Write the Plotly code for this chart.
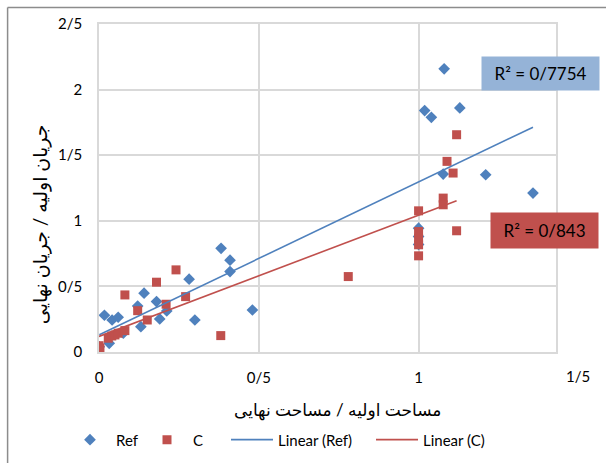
import numpy as np
import plotly.graph_objects as go

# ---- data ----
ref_x = [0.001, 0.017, 0.032, 0.041, 0.06, 0.076, 0.121, 0.131, 0.141, 0.18, 0.19, 0.212,
         0.282, 0.30, 0.382, 0.41, 0.41, 0.48, 1.0, 1.0, 1.0, 1.019, 1.04, 1.077, 1.08, 1.129, 1.21, 1.358]
ref_y = [0.04, 0.28, 0.066, 0.244, 0.265, 0.143, 0.35, 0.193, 0.448, 0.384, 0.252, 0.313,
         0.555, 0.244, 0.79, 0.70, 0.613, 0.32, 0.944, 0.88, 0.82, 1.84, 1.789, 1.356, 2.158, 1.86, 1.351, 1.211]

c_x = [0.0, 0.0, 0.003, 0.029, 0.04, 0.05, 0.06, 0.081, 0.081, 0.121, 0.151, 0.18, 0.21,
       0.241, 0.271, 0.381, 0.78, 1.0, 1.0, 1.0, 1.0, 1.0, 1.077, 1.077, 1.089, 1.108, 1.119, 1.119]
c_y = [0.023, 0.048, 0.03, 0.105, 0.122, 0.13, 0.143, 0.163, 0.435, 0.315, 0.244, 0.532, 0.364,
       0.626, 0.422, 0.125, 0.575, 1.076, 0.918, 0.868, 0.817, 0.733, 1.173, 1.122, 1.453, 1.364, 1.656, 0.924]

x_tickvals = [0, 0.5, 1]
x_ticktext = ["0", "0/5", "1"]
x_extra_tick = (1.5, "1/5")
y_tickvals = [0, 0.5, 1, 1.5, 2, 2.5]
y_ticktext = ["0", "0/5", "1", "1/5", "2", "2/5"]

r2_ref_text = "R² = 0/7754"
r2_c_text = "R² = 0/843"
x_title = "مساحت اولیه / مساحت نهایی"
y_title = "جریان اولیه / جریان نهایی"

XMAX = 1.43
YMAX = 2.5

BLUE = "#4F81BD"
RED = "#C0504D"
GRID = "#D9D9D9"
FONT = "Lato, DejaVu Sans, sans-serif"


def trend(xs, ys):
    k, b = np.polyfit(xs, ys, 1)
    lx = np.array([min(xs), max(xs)])
    return lx, k * lx + b


fig = go.Figure()
fig.add_trace(go.Scatter(x=ref_x, y=ref_y, mode="markers", name="Ref", legend="legend",
                         marker=dict(symbol="diamond", size=9, color=BLUE)))
fig.add_trace(go.Scatter(x=c_x, y=c_y, mode="markers", name="C", legend="legend2",
                         marker=dict(symbol="square", size=9, color=RED)))
lx, ly = trend(ref_x, ref_y)
fig.add_trace(go.Scatter(x=lx, y=ly, mode="lines", name="Linear (Ref)", legend="legend3",
                         line=dict(color=BLUE, width=1.6)))
lx, ly = trend(c_x, c_y)
fig.add_trace(go.Scatter(x=lx, y=ly, mode="lines", name="Linear (C)", legend="legend4",
                         line=dict(color=RED, width=1.6)))

leg_common = dict(orientation="h", xanchor="left", y=-0.268, yanchor="middle",
                  font=dict(size=15), itemwidth=42, bgcolor="rgba(0,0,0,0)")

fig.update_layout(
    width=606, height=463,
    margin=dict(l=99, r=50, t=24, b=111, autoexpand=False),
    paper_bgcolor="white", plot_bgcolor="white",
    font=dict(family=FONT, size=15, color="#000000"),
    showlegend=True,
    legend=dict(x=-0.0766, **leg_common),
    legend2=dict(x=0.0919, **leg_common),
    legend3=dict(x=0.2779, **leg_common),
    legend4=dict(x=0.5952, **leg_common),
)
fig.update_xaxes(range=[0, XMAX], tickvals=x_tickvals, ticktext=x_ticktext,
                 showgrid=True, gridcolor=GRID, gridwidth=1.5, zeroline=False,
                 showline=True, linecolor=GRID, linewidth=1.5, mirror=True, automargin=False,
                 ticks="", ticklabelstandoff=11, tickfont=dict(size=15))
fig.update_yaxes(range=[0, YMAX], tickvals=y_tickvals, ticktext=y_ticktext,
                 showgrid=True, gridcolor=GRID, gridwidth=1.5, zeroline=False,
                 showline=True, linecolor=GRID, linewidth=1.5, mirror=True, automargin=False,
                 ticks="", ticklabelstandoff=12, tickfont=dict(size=15))

annotations = [
    dict(text=x_extra_tick[1], xref="paper", yref="paper", x=x_extra_tick[0] / XMAX, y=-0.073,
         xanchor="center", yanchor="middle", showarrow=False, font=dict(size=15)),
    dict(text=x_title, xref="paper", yref="paper", x=0.522, y=-0.177, xanchor="center",
         yanchor="middle", showarrow=False, font=dict(size=17)),
    dict(text=y_title, xref="paper", yref="paper", x=-0.129, y=0.39, xanchor="center",
         yanchor="middle", showarrow=False, textangle=-90, font=dict(size=19)),
    dict(text=r2_ref_text, xref="paper", yref="paper", x=0.966, y=0.849, xanchor="center",
         yanchor="middle", showarrow=False, bgcolor="#95B3D7", borderpad=5, width=107, height=23,
         font=dict(size=17)),
    dict(text=r2_c_text, xref="paper", yref="paper", x=0.975, y=0.370, xanchor="center",
         yanchor="middle", showarrow=False, bgcolor=RED, borderpad=5, width=97, height=25,
         font=dict(size=17)),
]
fig.update_layout(annotations=annotations)

# outer chart border (left and top edges visible in the reference)
fig.add_shape(type="line", xref="paper", yref="paper", x0=-0.2, x1=-0.2, y0=-0.34, y1=1.05,
              line=dict(color="#8C8C8C", width=1.5))
fig.add_shape(type="line", xref="paper", yref="paper", x0=-0.2, x1=1.2, y0=1.05, y1=1.05,
              line=dict(color="#8C8C8C", width=1.5))

fig.write_html("out.html", config={"displayModeBar": False},
               post_script="document.body.style.margin='0';")
